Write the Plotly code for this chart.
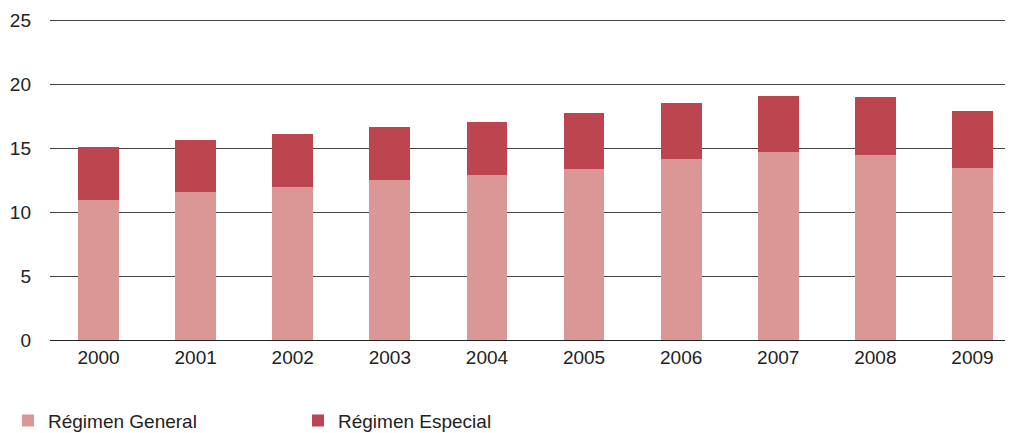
import plotly.graph_objects as go

anios = ["2000", "2001", "2002", "2003", "2004", "2005", "2006", "2007", "2008", "2009"]
regimen_general = [11.0, 11.6, 12.0, 12.5, 12.9, 13.4, 14.2, 14.7, 14.5, 13.5]
regimen_especial = [4.1, 4.1, 4.1, 4.2, 4.2, 4.4, 4.4, 4.45, 4.5, 4.45]
ticks_y = [0, 5, 10, 15, 20, 25]

fig = go.Figure()
fig.add_trace(go.Bar(x=anios, y=regimen_general, name="Régimen General",
                     marker=dict(color="#DB9795", line=dict(width=0)), width=0.42))
fig.add_trace(go.Bar(x=anios, y=regimen_especial, name="Régimen Especial",
                     marker=dict(color="#BC4550", line=dict(width=0)), width=0.42))

# la página tiene un margen de 8px en el body, se compensa aquí
fig.update_layout(
    barmode="stack",
    width=1013, height=433,
    margin=dict(l=42, r=0, t=9, b=101, autoexpand=False),
    plot_bgcolor="white", paper_bgcolor="white",
    font=dict(family="Liberation Sans, Arial, sans-serif", size=19, color="#222222"),
    showlegend=True,
    legend=dict(orientation="h", traceorder="normal", xref="container", x=0,
                xanchor="left", yref="container", y=0.047, yanchor="middle",
                font=dict(size=19, color="#222222"), itemwidth=30,
                entrywidth=245, entrywidthmode="pixels", itemsizing="constant"),
    xaxis=dict(range=[-0.5, 9.5], showgrid=False, showline=False, ticks="",
               tickfont=dict(size=19), ticklabelstandoff=4, automargin=False),
    yaxis=dict(range=[0, 25.3], tickvals=ticks_y, showgrid=True, gridcolor="#444444",
               gridwidth=1, zeroline=True, zerolinecolor="#222222", zerolinewidth=1,
               ticks="", ticklabelstandoff=18, tickfont=dict(size=19), automargin=False),
)

fig.write_html("out.html")
